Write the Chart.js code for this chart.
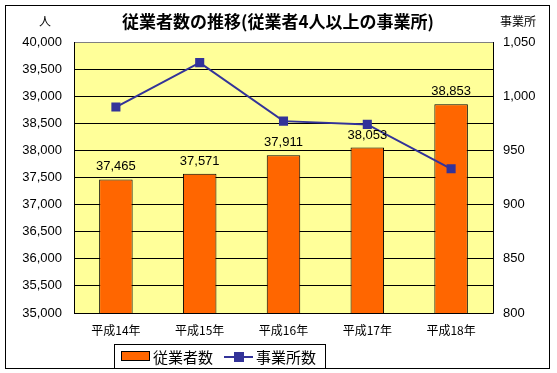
<!DOCTYPE html>
<html>
<head>
<meta charset="utf-8">
<script src="https://cdn.jsdelivr.net/npm/chart.js@4"></script>
<style>
  html, body { margin: 0; padding: 0; background: #fff; }
  #wrap { width: 557px; height: 373px; }
</style>
</head>
<body>
<div id="wrap"><canvas id="c" width="557" height="373"></canvas></div>
<script>
const years = ['平成14年', '平成15年', '平成16年', '平成17年', '平成18年'];
const workers = [37465, 37571, 37911, 38053, 38853];
const offices = [990, 1031, 977, 974, 933];
const titleText = '従業者数の推移(従業者4人以上の事業所)';
const font = "'Liberation Sans', 'Noto Sans CJK JP', sans-serif";
const jpFont = "'Noto Sans CJK JP', sans-serif";

const decor = {
    id: 'decor',
    beforeDraw(chart) {
        const { ctx, chartArea: a } = chart;
        ctx.save();
        ctx.fillStyle = '#FFFF99';
        ctx.fillRect(a.left, a.top, a.right - a.left, a.bottom - a.top);
        ctx.restore();
    },
    afterDatasetsDraw(chart) {
        // bar value labels
        const { ctx } = chart;
        const meta = chart.getDatasetMeta(1);
        ctx.save();
        ctx.fillStyle = '#000';
        ctx.font = '13px ' + font;
        ctx.textAlign = 'center';
        ctx.textBaseline = 'alphabetic';
        meta.data.forEach((bar, i) => {
            ctx.fillText(workers[i].toLocaleString('en-US'), bar.x, bar.y - 9);
        });
        ctx.restore();
    },
    afterDraw(chart) {
        const { ctx, chartArea: a } = chart;
        ctx.save();
        // plot border
        ctx.strokeStyle = '#808080';
        ctx.lineWidth = 1;
        ctx.beginPath();
        ctx.moveTo(a.left, a.top + 0.5);
        ctx.lineTo(a.right, a.top + 0.5);
        ctx.stroke();
        ctx.strokeStyle = '#000';
        ctx.beginPath();
        ctx.moveTo(a.left + 0.5, a.top);
        ctx.lineTo(a.left + 0.5, a.bottom + 0.5);
        ctx.lineTo(a.right + 0.5, a.bottom + 0.5);
        ctx.lineTo(a.right + 0.5, a.top);
        ctx.stroke();

        // outer border
        ctx.strokeRect(5.5, 5.5, 544, 363);

        // title and axis units
        ctx.fillStyle = '#000';
        ctx.textBaseline = 'middle';
        ctx.textAlign = 'center';
        ctx.font = 'bold 17px ' + jpFont;
        ctx.fillText(titleText, 278, 22);
        ctx.font = '12px ' + jpFont;
        ctx.fillText('人', 45, 21);
        ctx.fillText('事業所', 518, 21);

        // legend
        ctx.strokeStyle = '#000';
        ctx.strokeRect(114.5, 344.5, 211, 24);
        ctx.fillStyle = '#FF6600';
        ctx.fillRect(121, 351, 28, 10);
        ctx.strokeRect(121.5, 351.5, 28, 9);
        ctx.fillStyle = '#000';
        ctx.textAlign = 'left';
        ctx.textBaseline = 'middle';
        ctx.font = '15px ' + jpFont;
        ctx.fillText('従業者数', 153, 357);
        ctx.strokeStyle = '#333399';
        ctx.lineWidth = 2;
        ctx.beginPath();
        ctx.moveTo(224, 357);
        ctx.lineTo(253, 357);
        ctx.stroke();
        ctx.fillStyle = '#333399';
        ctx.fillRect(234, 352, 10, 10);
        ctx.fillStyle = '#000';
        ctx.fillText('事業所数', 256, 357);
        ctx.restore();
    }
};

new Chart(document.getElementById('c'), {
    data: {
        labels: years,
        datasets: [
            {
                type: 'line',
                label: '事業所数',
                data: offices,
                yAxisID: 'y1',
                borderColor: '#333399',
                backgroundColor: '#333399',
                borderWidth: 2,
                pointStyle: 'rect',
                pointRadius: 5,
                tension: 0,
                order: 0
            },
            {
                type: 'bar',
                label: '従業者数',
                data: workers,
                yAxisID: 'y',
                backgroundColor: '#FF6600',
                borderColor: '#000',
                borderWidth: 1,
                barPercentage: 0.4,
                categoryPercentage: 1,
                order: 1
            }
        ]
    },
    options: {
        responsive: false,
        animation: false,
        layout: { padding: { left: 5, right: 0, top: 42, bottom: 0 } },
        plugins: {
            legend: { display: false },
            tooltip: { enabled: false }
        },
        scales: {
            x: {
                grid: { display: false, drawTicks: false },
                border: { display: false },
                ticks: { color: '#000', font: { family: jpFont, size: 12 }, padding: 10 },
                afterFit(s) { s.height = 60; }
            },
            y: {
                position: 'left',
                min: 35000,
                max: 40000,
                ticks: {
                    stepSize: 500,
                    color: '#000',
                    font: { family: font, size: 13 },
                    padding: 12,
                    callback: v => v.toLocaleString('en-US')
                },
                grid: { color: '#000', drawTicks: false, lineWidth: 1 },
                border: { display: false },
                afterFit(s) { s.width = 69; }
            },
            y1: {
                position: 'right',
                min: 800,
                max: 1050,
                ticks: {
                    stepSize: 50,
                    color: '#000',
                    font: { family: font, size: 13 },
                    padding: 10,
                    callback: v => v.toLocaleString('en-US')
                },
                grid: { display: false, drawTicks: false },
                border: { display: false },
                afterFit(s) { s.width = 64; }
            }
        }
    },
    plugins: [decor]
});
</script>
</body>
</html>
